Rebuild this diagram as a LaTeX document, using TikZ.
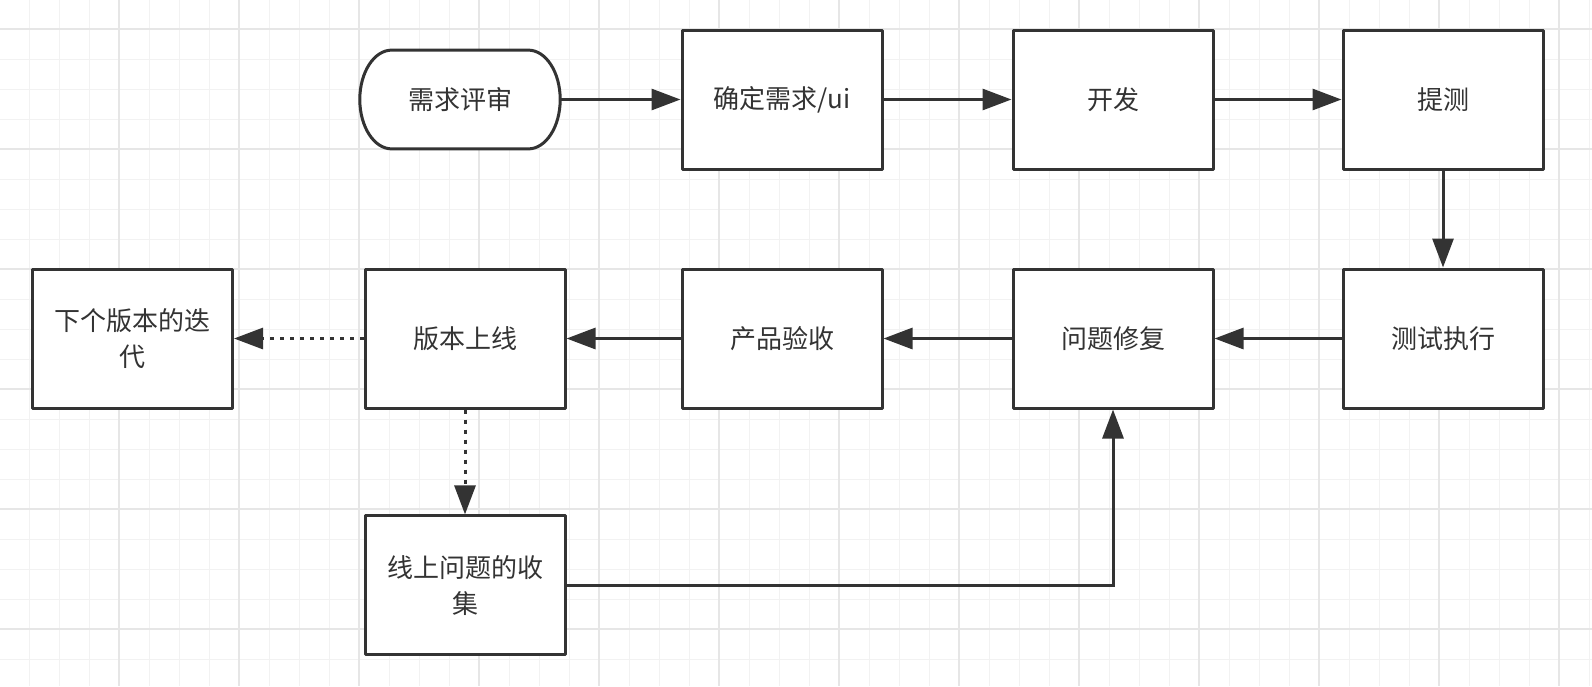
\documentclass[tikz,border=0pt]{standalone}
\usepackage{fontspec}
\newfontfamily\cjk{Noto Sans CJK SC}
\usetikzlibrary{arrows.meta}
\definecolor{ink}{HTML}{333333}
\definecolor{gridminor}{HTML}{F2F2F2}
\definecolor{gridmajor}{HTML}{E6E6E6}
\begin{document}
\begin{tikzpicture}[x=1pt,y=-1pt,
  label font/.style={text=ink, font=\cjk\fontsize{26}{35.5}\selectfont, align=center},
  box/.style={label font, draw=ink, line width=3pt, fill=white, line join=round,
    minimum width=200pt, minimum height=139pt, inner sep=0pt},
  term/.style={label font, minimum width=200.4pt, minimum height=98.8pt, inner sep=0pt},
  termline/.style={draw=ink, fill=white, line width=3pt, line join=round},
  flow/.style={draw=ink, line width=3pt, -{Triangle[length=29pt,width=21pt]}},
  dotflow/.style={flow, dash pattern=on 4pt off 6pt},
  gridminorline/.style={draw=gridminor, line width=1.6pt},
  gridmajorline/.style={draw=gridmajor, line width=1.8pt}]
\useasboundingbox (0,0) rectangle (1592,686);
\fill[white] (0,0) rectangle (1592,686);
% grid
\foreach \k in {0,...,52} {\draw[gridminorline] ({29.3+30*\k},0) -- ({29.3+30*\k},686);}
\foreach \k in {0,...,21} {\draw[gridminorline] (0,{29.3+30*\k}) -- (1592,{29.3+30*\k});}
\foreach \k in {0,...,12} {\draw[gridmajorline] ({119.3+120*\k},0) -- ({119.3+120*\k},686);}
\foreach \k in {0,...,5} {\draw[gridmajorline] (0,{29.3+120*\k}) -- (1592,{29.3+120*\k});}
% terminator outline
\draw[termline] (391.8,50.1) -- (528.2,50.1)
  arc[start angle=90, end angle=-90, x radius=32pt, y radius=49.4pt]
  -- (391.8,148.9)
  arc[start angle=270, end angle=90, x radius=32pt, y radius=49.4pt] -- cycle;
% nodes
\node[term] (a) at (460,99.5) {需求评审};
\node[box] (b) at (782,99.5) {确定需求/ui};
\node[box] (c) at (1113,99.5) {开发};
\node[box] (d) at (1443,99.5) {提测};
\node[box] (e) at (1443,338.5) {测试执行};
\node[box] (f) at (1113,338.5) {问题修复};
\node[box] (g) at (782,338.5) {产品验收};
\node[box] (h) at (465,338.5) {版本上线};
\node[box] (i) at (132.5,338.5) {下个版本的迭\\代};
\node[box] (j) at (465,585.4) {线上问题的收\\集};
% connectors
\draw[flow] (a.east) -- (b.west);
\draw[flow] (b) -- (c);
\draw[flow] (c) -- (d);
\draw[flow] (d) -- (e);
\draw[flow] (e) -- (f);
\draw[flow] (f) -- (g);
\draw[flow] (g) -- (h);
\draw[dotflow] (h) -- (i);
\draw[dotflow] (h) -- (j);
\draw[flow] (j.east) -| (f.south);
\end{tikzpicture}
\end{document}
